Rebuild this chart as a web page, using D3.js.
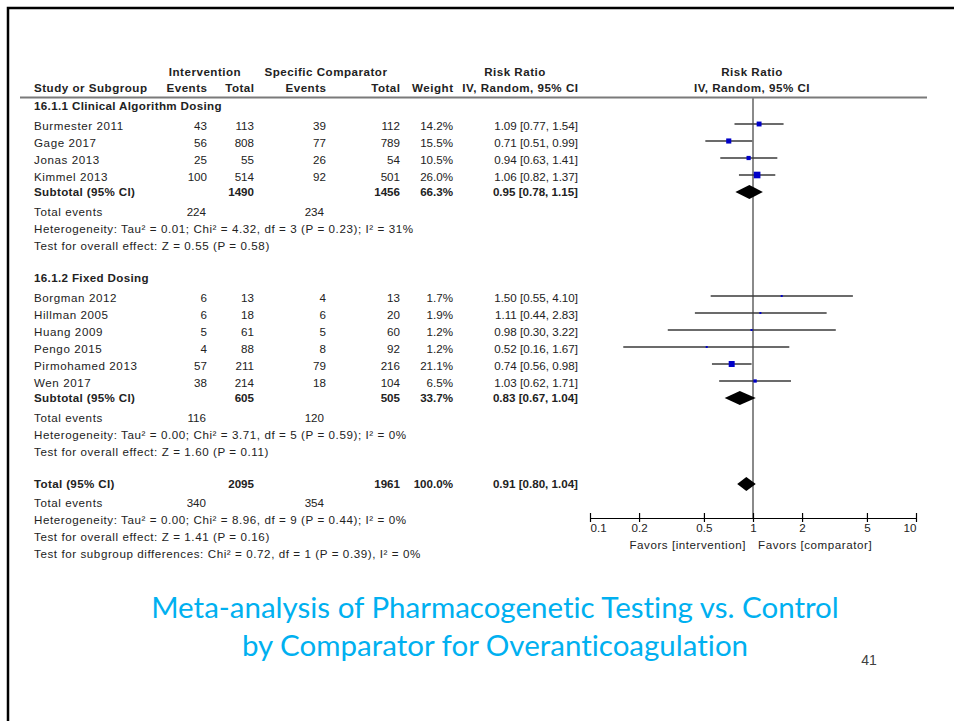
<!DOCTYPE html>
<html><head><meta charset="utf-8">
<script src="https://cdn.jsdelivr.net/npm/d3@7"></script>
<style>
html,body{margin:0;padding:0;background:#fff;}
svg text{font-family:"Liberation Sans",Arial,sans-serif;}
</style>
</head><body>
<svg id="chart" width="954" height="721"></svg>
<script>
// ---------------- DATA ----------------
const groupNames = ["16.1.1 Clinical Algorithm Dosing", "16.1.2 Fixed Dosing"];

const studies1 = ["Burmester 2011", "Gage 2017", "Jonas 2013", "Kimmel 2013"];
const intEvents1 = [43, 56, 25, 100];
const intTotal1 = [113, 808, 55, 514];
const compEvents1 = [39, 77, 26, 92];
const compTotal1 = [112, 789, 54, 501];
const weight1 = [14.2, 15.5, 10.5, 26.0];
const rr1 = [1.09, 0.71, 0.94, 1.06];
const lo1 = [0.77, 0.51, 0.63, 0.82];
const hi1 = [1.54, 0.99, 1.41, 1.37];

const studies2 = ["Borgman 2012", "Hillman 2005", "Huang 2009", "Pengo 2015", "Pirmohamed 2013", "Wen 2017"];
const intEvents2 = [6, 6, 5, 4, 57, 38];
const intTotal2 = [13, 18, 61, 88, 211, 214];
const compEvents2 = [4, 6, 5, 8, 79, 18];
const compTotal2 = [13, 20, 60, 92, 216, 104];
const weight2 = [1.7, 1.9, 1.2, 1.2, 21.1, 6.5];
const rr2 = [1.50, 1.11, 0.98, 0.52, 0.74, 1.03];
const lo2 = [0.55, 0.44, 0.30, 0.16, 0.56, 0.62];
const hi2 = [4.10, 2.83, 3.22, 1.67, 0.98, 1.71];

// subtotals: [group1, group2], total
const subIntTotal = [1490, 605];
const subCompTotal = [1456, 505];
const subWeight = [66.3, 33.7];
const subRR = [0.95, 0.83];
const subLo = [0.78, 0.67];
const subHi = [1.15, 1.04];
const subIntEvents = [224, 116];
const subCompEvents = [234, 120];
const subHet = ["Heterogeneity: Tau\u00b2 = 0.01; Chi\u00b2 = 4.32, df = 3 (P = 0.23); I\u00b2 = 31%",
                "Heterogeneity: Tau\u00b2 = 0.00; Chi\u00b2 = 3.71, df = 5 (P = 0.59); I\u00b2 = 0%"];
const subTest = ["Test for overall effect: Z = 0.55 (P = 0.58)",
                 "Test for overall effect: Z = 1.60 (P = 0.11)"];

const totIntTotal = 2095, totCompTotal = 1961, totWeight = 100.0;
const totRR = 0.91, totLo = 0.80, totHi = 1.04;
const totIntEvents = 340, totCompEvents = 354;
const totHet = "Heterogeneity: Tau\u00b2 = 0.00; Chi\u00b2 = 8.96, df = 9 (P = 0.44); I\u00b2 = 0%";
const totTest = "Test for overall effect: Z = 1.41 (P = 0.16)";
const totSubgroup = "Test for subgroup differences: Chi\u00b2 = 0.72, df = 1 (P = 0.39), I\u00b2 = 0%";

const tickValues = [0.1, 0.2, 0.5, 1, 2, 5, 10];
const tickLabels = ["0.1", "0.2", "0.5", "1", "2", "5", "10"];
const favorLabels = ["Favors [intervention]", "Favors [comparator]"];

const titleLines = ["Meta-analysis of Pharmacogenetic Testing vs. Control", "by Comparator for Overanticoagulation"];
const pageNumber = "41";

// ---------------- LAYOUT ----------------
const svg = d3.select("#chart");
const W = 954, H = 721;
const FS = 11.6;          // body font size
const LS = 0.58;          // letter spacing for text labels
const col = {label: 34, intEv: 207, intTot: 254, compEv: 326, compTot: 400, weight: 453, ci: 578};
const x = d3.scaleLog().domain([0.1, 10]).range([590, 916]);

const fmt2 = d3.format(".2f");
const fmtW = d3.format(".1f");
const ciText = (r, l, h) => `${fmt2(r)} [${fmt2(l)}, ${fmt2(h)}]`;

// build rows
const rows = [];
const gaps = {group: 32, firstStudy: 19.5, study: 17, subtotal: 15.5, events: 20, stat: 17, total: 32, totEvents: 19};
let yCur = 106;
function push(kind, gapKey, obj) {
  if (rows.length) yCur += gaps[gapKey];
  rows.push(Object.assign({kind, y: yCur}, obj));
}
const groups = [
  {studies: studies1, ie: intEvents1, it: intTotal1, ce: compEvents1, ct: compTotal1, w: weight1, rr: rr1, lo: lo1, hi: hi1},
  {studies: studies2, ie: intEvents2, it: intTotal2, ce: compEvents2, ct: compTotal2, w: weight2, rr: rr2, lo: lo2, hi: hi2}
];
groups.forEach((g, gi) => {
  push("group", "group", {label: groupNames[gi]});
  g.studies.forEach((s, i) => {
    push("study", i === 0 ? "firstStudy" : "study",
      {label: s, ie: g.ie[i], it: g.it[i], ce: g.ce[i], ct: g.ct[i], w: g.w[i], rr: g.rr[i], lo: g.lo[i], hi: g.hi[i]});
  });
  push("subtotal", "subtotal", {label: "Subtotal (95% CI)", it: subIntTotal[gi], ct: subCompTotal[gi], w: subWeight[gi], rr: subRR[gi], lo: subLo[gi], hi: subHi[gi]});
  push("events", "events", {label: "Total events", ie: subIntEvents[gi], ce: subCompEvents[gi]});
  push("stat", "stat", {label: subHet[gi]});
  push("stat", "stat", {label: subTest[gi]});
});
push("subtotal", "total", {label: "Total (95% CI)", it: totIntTotal, ct: totCompTotal, w: totWeight, rr: totRR, lo: totLo, hi: totHi});
push("events", "totEvents", {label: "Total events", ie: totIntEvents, ce: totCompEvents});
push("stat", "stat", {label: totHet});
push("stat", "stat", {label: totTest});
push("stat", "stat", {label: totSubgroup});

// ---------------- FRAME ----------------
svg.append("rect").attr("x", 0).attr("y", 0).attr("width", W).attr("height", H).attr("fill", "#fff");
svg.append("path").attr("d", `M8,${H} L8,8 L${W},8`).attr("fill", "none").attr("stroke", "#000").attr("stroke-width", 2.5);

// ---------------- HEADER ----------------
const hdr = svg.append("g").attr("font-weight", "bold").attr("font-size", 11.6).attr("fill", "#222")
  .attr("letter-spacing", 0.5);
const h1 = 72, h2 = 88;
const headerCells = [
  {t: "Intervention", x: 205, y: h1, a: "middle"},
  {t: "Specific Comparator", x: 326, y: h1, a: "middle"},
  {t: "Risk Ratio", x: 515, y: h1, a: "middle"},
  {t: "Risk Ratio", x: 752, y: h1, a: "middle"},
  {t: "Study or Subgroup", x: col.label, y: h2, a: "start"},
  {t: "Events", x: col.intEv + 0.5, y: h2, a: "end"},
  {t: "Total", x: col.intTot + 0.5, y: h2, a: "end"},
  {t: "Events", x: col.compEv + 0.5, y: h2, a: "end"},
  {t: "Total", x: col.compTot + 0.5, y: h2, a: "end"},
  {t: "Weight", x: col.weight + 0.5, y: h2, a: "end"},
  {t: "IV, Random, 95% CI", x: col.ci + 0.5, y: h2, a: "end"},
  {t: "IV, Random, 95% CI", x: 752, y: h2, a: "middle"}
];
hdr.selectAll("text").data(headerCells).join("text")
  .attr("x", d => d.x).attr("y", d => d.y).attr("dy", "0.35em")
  .attr("text-anchor", d => d.a).text(d => d.t);

svg.append("line").attr("x1", 20).attr("x2", 927).attr("y1", 97.5).attr("y2", 97.5)
  .attr("stroke", "#7a7a7a").attr("stroke-width", 2);

// ---------------- TABLE ----------------
const tbl = svg.append("g").attr("font-size", FS).attr("fill", "#222");
rows.forEach(r => {
  const g = tbl.append("g").attr("transform", `translate(0,${r.y})`);
  const bold = (r.kind === "group" || r.kind === "subtotal");
  const cell = (t, xx, a, b) => g.append("text").attr("x", xx).attr("dy", "0.35em")
    .attr("text-anchor", a).attr("font-weight", b ? "bold" : "normal").text(t);
  cell(r.label, col.label, "start", bold).attr("letter-spacing", bold ? 0.35 : LS);
  if (r.kind === "study") {
    cell(r.ie, col.intEv, "end"); cell(r.it, col.intTot, "end");
    cell(r.ce, col.compEv, "end"); cell(r.ct, col.compTot, "end");
    cell(fmtW(r.w) + "%", col.weight, "end"); cell(ciText(r.rr, r.lo, r.hi), col.ci, "end");
  } else if (r.kind === "subtotal") {
    cell(r.it, col.intTot, "end", true); cell(r.ct, col.compTot, "end", true);
    cell(fmtW(r.w) + "%", col.weight, "end", true); cell(ciText(r.rr, r.lo, r.hi), col.ci, "end", true);
  } else if (r.kind === "events") {
    cell(r.ie, col.intEv - 1, "end"); cell(r.ce, col.compEv - 2, "end");
  }
});

// ---------------- FOREST ----------------
const axisY = 518;
svg.append("line").attr("x1", x(1)).attr("x2", x(1)).attr("y1", 98).attr("y2", axisY)
  .attr("stroke", "#8a8a8a").attr("stroke-width", 2);

const forest = svg.append("g");
const studyRows = rows.filter(r => r.kind === "study");
forest.selectAll("line.ci").data(studyRows).join("line").attr("class", "ci")
  .attr("x1", d => x(d.lo)).attr("x2", d => x(d.hi))
  .attr("y1", d => d.y - 1.5).attr("y2", d => d.y - 1.5)
  .attr("stroke", "#3a3a3a").attr("stroke-width", 1.3);
const boxSize = d => Math.max(2, 1.3 * Math.sqrt(d.w));
forest.selectAll("rect.box").data(studyRows).join("rect").attr("class", "box")
  .attr("x", d => x(d.rr) - boxSize(d) / 2).attr("y", d => d.y - 1.5 - boxSize(d) / 2)
  .attr("width", boxSize).attr("height", boxSize).attr("fill", "#0000c8");
const subRows = rows.filter(r => r.kind === "subtotal");
forest.selectAll("path.dia").data(subRows).join("path").attr("class", "dia")
  .attr("d", d => `M${x(d.lo)},${d.y} L${x(d.rr)},${d.y - 7} L${x(d.hi)},${d.y} L${x(d.rr)},${d.y + 7} Z`)
  .attr("fill", "#000");

// axis
const axis = d3.axisBottom(x).tickValues(tickValues).tickFormat((d, i) => tickLabels[i])
  .tickSizeInner(4).tickSizeOuter(0).tickPadding(3);
const ag = svg.append("g").attr("transform", `translate(0,${axisY})`).call(axis);
ag.select(".domain").attr("stroke", "#000").attr("stroke-width", 1.2);
ag.selectAll(".tick line").attr("y1", -5).attr("stroke", "#000").attr("stroke-width", 1.2);
ag.selectAll(".tick text").attr("font-family", "'Liberation Sans',Arial,sans-serif").attr("font-size", FS)
  .attr("fill", "#222").attr("dy", "0.6em")
  .attr("text-anchor", (d, i) => i === 0 ? "start" : (i === tickValues.length - 1 ? "end" : "middle"));

svg.append("g").attr("font-size", FS).attr("fill", "#222").attr("letter-spacing", 0.55)
  .selectAll("text").data(favorLabels).join("text")
  .attr("x", (d, i) => i === 0 ? x(1) - 7 : x(1) + 5).attr("y", axisY + 27).attr("dy", "0.35em")
  .attr("text-anchor", (d, i) => i === 0 ? "end" : "start").text(d => d);

// ---------------- TITLE ----------------
svg.append("g").attr("fill", "#00b0f0").attr("font-size", 29.5)
  .selectAll("text").data(titleLines).join("text")
  .attr("x", 495).attr("y", (d, i) => 608 + i * 38).attr("dy", "0.35em")
  .attr("text-anchor", "middle")
  .style("font-family", "Lato, 'Open Sans', sans-serif")
  .style("font-variant-ligatures", "none")
  .style("font-feature-settings", "'liga' 0, 'clig' 0, 'dlig' 0")
  .text(d => d);

svg.append("text").attr("x", 869).attr("y", 660).attr("dy", "0.35em").attr("text-anchor", "middle")
  .attr("font-size", 14).attr("fill", "#404040").text(pageNumber);
</script>
</body></html>
